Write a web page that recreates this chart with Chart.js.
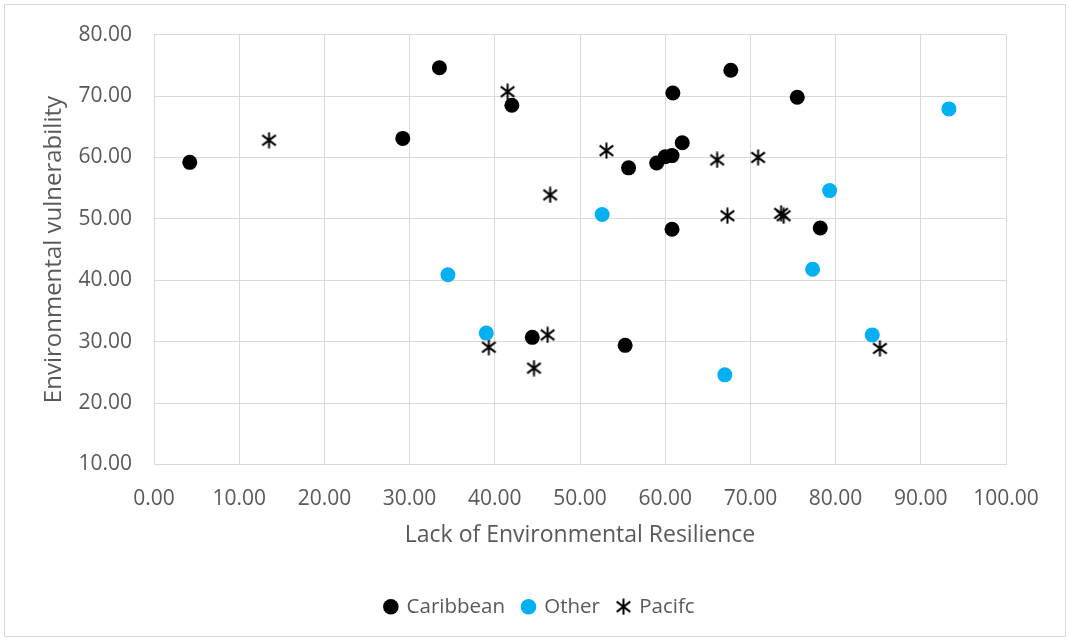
<!DOCTYPE html>
<html>
<head>
<meta charset="utf-8">
<script src="https://cdn.jsdelivr.net/npm/chart.js@4.4.1/dist/chart.umd.min.js"></script>
<style>
  html, body { margin: 0; padding: 0; background: #ffffff; }
  #wrap { width: 1069px; height: 641px; }
</style>
</head>
<body>
<div id="wrap"><canvas id="c" width="1069" height="641"></canvas></div>
<script>
// Lack of environmental resilience (x) vs environmental vulnerability (y)
const caribbeanX = [4.2, 29.2, 33.5, 42.0, 60.9, 67.7, 75.5, 62.0, 55.7, 59.0, 60.0, 60.8, 60.8, 78.2, 44.4, 55.3];
const caribbeanY = [59.2, 63.1, 74.6, 68.5, 70.5, 74.2, 69.8, 62.4, 58.3, 59.1, 60.1, 60.3, 48.3, 48.5, 30.7, 29.4];

const otherX = [34.5, 39.0, 52.6, 67.0, 79.3, 77.3, 84.3, 93.3];
const otherY = [40.9, 31.4, 50.7, 24.6, 54.6, 41.8, 31.1, 67.9];

const pacificX = [13.5, 41.5, 53.1, 46.5, 66.1, 70.9, 67.3, 73.6, 73.9, 39.3, 46.2, 44.6, 85.2];
const pacificY = [62.8, 70.7, 61.1, 53.9, 59.6, 60.0, 50.5, 50.9, 50.5, 29.1, 31.1, 25.7, 28.9];

const seriesNames = ['Caribbean', 'Other', 'Pacifc'];
const xTickValues = [0, 10, 20, 30, 40, 50, 60, 70, 80, 90, 100];
const yTickValues = [10, 20, 30, 40, 50, 60, 70, 80];

const toPoints = (xs, ys) => xs.map((x, i) => ({ x: x, y: ys[i] }));

// Asterisk marker: an X crossed by a vertical stroke
function makeAsterisk(size, lw) {
  const cv = document.createElement('canvas');
  cv.width = size; cv.height = size;
  const g = cv.getContext('2d');
  g.strokeStyle = '#000000';
  g.lineWidth = lw;
  const c = size / 2;
  const dx = size * 0.40, dy = size * 0.30;
  g.beginPath();
  g.moveTo(c - dx, c - dy); g.lineTo(c + dx, c + dy);
  g.moveTo(c + dx, c - dy); g.lineTo(c - dx, c + dy);
  g.moveTo(c, 0.5); g.lineTo(c, size - 0.5);
  g.stroke();
  return cv;
}
const asterisk = makeAsterisk(17, 2);

const frame = {
  id: 'frame',
  beforeDraw(chart) {
    const ctx = chart.ctx;
    ctx.save();
    ctx.fillStyle = '#ffffff';
    ctx.fillRect(0, 0, chart.width, chart.height);
    ctx.strokeStyle = '#d9d9d9';
    ctx.lineWidth = 1;
    ctx.strokeRect(4.5, 4.5, 1061, 632);
    ctx.restore();
  }
};

const FONT = "'Open Sans', 'Liberation Sans', sans-serif";
const GREY = '#595959';
const GRID = '#d9d9d9';

new Chart(document.getElementById('c'), {
  type: 'scatter',
  data: {
    datasets: [
      {
        label: seriesNames[0],
        data: toPoints(caribbeanX, caribbeanY),
        pointStyle: 'circle',
        pointRadius: 7.5,
        backgroundColor: '#000000',
        borderColor: '#000000',
        borderWidth: 0
      },
      {
        label: seriesNames[1],
        data: toPoints(otherX, otherY),
        pointStyle: 'circle',
        pointRadius: 7.5,
        backgroundColor: '#00b0f0',
        borderColor: '#00b0f0',
        borderWidth: 0
      },
      {
        label: seriesNames[2],
        data: toPoints(pacificX, pacificY),
        pointStyle: asterisk,
        pointRadius: 8,
        backgroundColor: '#000000',
        borderColor: '#000000'
      }
    ]
  },
  options: {
    responsive: false,
    animation: false,
    events: [],
    layout: { padding: { left: 20, right: 9, top: 33, bottom: 14 } },
    plugins: {
      tooltip: { enabled: false },
      legend: {
        position: 'bottom',
        labels: {
          usePointStyle: true,
          boxWidth: 11,
          boxHeight: 11,
          padding: 18,
          color: GREY,
          font: { family: FONT, size: 20.5 }
        }
      }
    },
    scales: {
      x: {
        type: 'linear',
        min: 0, max: 100,
        afterBuildTicks: (s) => { s.ticks = xTickValues.map(v => ({ value: v })); },
        afterFit: (s) => { s.height = 114; },
        ticks: {
          color: GREY,
          padding: 22,
          font: { family: FONT, size: 21 },
          callback: (v) => Number(v).toFixed(2)
        },
        grid: { color: GRID, lineWidth: 1, drawTicks: false },
        border: { color: GRID, width: 1 },
        title: {
          display: true,
          text: 'Lack of Environmental Resilience',
          color: GREY,
          font: { family: FONT, size: 23 },
          padding: { top: 0, bottom: 29 }
        }
      },
      y: {
        type: 'linear',
        min: 10, max: 80,
        afterBuildTicks: (s) => { s.ticks = yTickValues.map(v => ({ value: v })); },
        afterFit: (s) => { s.width = 134; },
        ticks: {
          color: GREY,
          padding: 22,
          font: { family: FONT, size: 21 },
          callback: (v) => Number(v).toFixed(2)
        },
        grid: { color: GRID, lineWidth: 1, drawTicks: false },
        border: { color: GRID, width: 1 },
        title: {
          display: true,
          text: 'Environmental vulnerability',
          color: GREY,
          font: { family: FONT, size: 24 },
          padding: { top: 20, bottom: 0 }
        }
      },
      // empty right-hand margin so the plot ends at the 100.00 gridline
      yRight: {
        type: 'linear',
        position: 'right',
        display: true,
        min: 10, max: 80,
        afterFit: (s) => { s.width = 54; },
        ticks: { display: false },
        grid: { display: false, drawTicks: false },
        border: { display: false }
      }
    }
  },
  plugins: [frame]
});
</script>
</body>
</html>
